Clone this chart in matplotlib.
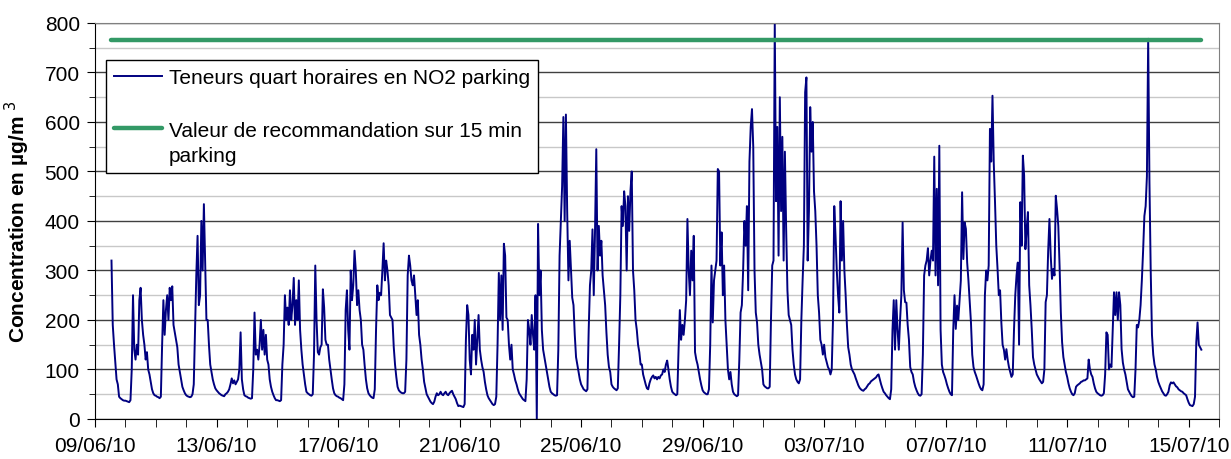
import matplotlib.pyplot as plt
import matplotlib.dates as mdates
from matplotlib.ticker import MultipleLocator, FixedLocator
import numpy as np
import pandas as pd

plt.rcParams['font.family'] = ['Liberation Sans', 'DejaVu Sans']

# teneurs horaires (µg/m3), une ligne = un jour (0h..23h)
no2_09_14 = [
    320, 190, 150, 115, 80, 70, 45, 42, 40, 38, 37,  # 09/06 a partir de 13h
    37, 36, 35, 34, 38, 100, 250, 140, 120, 150, 130, 240, 265, 200, 170, 150, 120, 135, 100, 90, 75, 60, 52, 48,
    47, 45, 44, 42, 45, 150, 240, 170, 220, 250, 200, 265, 240, 268, 190, 175, 160, 145, 110, 95, 80, 65, 58, 52,
    48, 46, 45, 44, 45, 50, 70, 180, 290, 370, 230, 250, 400, 300, 434, 320, 200, 200, 150, 110, 95, 80, 70, 62,
    58, 55, 52, 50, 48, 47, 46, 50, 52, 55, 60, 70, 82, 72, 78, 70, 75, 80, 100, 175, 80, 60, 48, 46,
    45, 43, 42, 41, 42, 100, 215, 130, 140, 120, 150, 200, 140, 180, 130, 170, 120, 110, 80, 65, 55, 48, 42, 38,
]
no2_15_20 = [
    38, 37, 36, 38, 110, 150, 250, 200, 225, 190, 260, 200, 230, 285, 190, 240, 200, 280, 180, 140, 110, 90, 70, 55,
    52, 50, 48, 47, 50, 130, 310, 200, 135, 130, 145, 150, 262, 225, 160, 150, 150, 120, 100, 80, 62, 52, 48, 46,
    45, 43, 42, 40, 38, 70, 220, 260, 180, 140, 300, 240, 270, 340, 300, 230, 260, 220, 200, 150, 140, 108, 80, 62,
    52, 48, 45, 43, 42, 60, 180, 270, 240, 255, 250, 300, 355, 280, 320, 300, 270, 210, 205, 200, 145, 110, 85, 65,
    58, 55, 53, 52, 52, 55, 120, 290, 330, 310, 280, 270, 290, 250, 210, 240, 170, 150, 120, 100, 75, 62, 50, 45,
    40, 35, 32, 30, 35, 45, 52, 48, 50, 55, 50, 48, 52, 55, 50, 48, 52, 55, 57, 50, 45, 40, 32, 26,
]
no2_21_26 = [
    27, 26, 25, 24, 30, 160, 230, 210, 120, 90, 170, 140, 200, 110, 160, 210, 140, 120, 105, 95, 75, 60, 48, 42,
    38, 34, 30, 28, 30, 45, 150, 295, 200, 290, 180, 354, 330, 205, 200, 150, 120, 150, 100, 90, 78, 70, 60, 52,
    48, 44, 40, 38, 36, 80, 200, 180, 150, 210, 170, 140, 250, 0, 394, 250, 300, 180, 140, 125, 110, 95, 80, 65,
    55, 52, 50, 48, 47, 48, 140, 330, 400, 470, 610, 400, 615, 420, 280, 360, 300, 245, 230, 170, 125, 110, 95, 80,
    70, 65, 60, 58, 56, 60, 180, 270, 300, 383, 250, 380, 545, 300, 390, 330, 360, 290, 260, 230, 175, 130, 105, 95,
    70, 65, 62, 60, 58, 62, 150, 250, 430, 390, 460, 430, 300, 450, 380, 460, 500, 300, 260, 200, 180, 150, 135, 110,
]
no2_27_02 = [
    110, 90, 80, 70, 62, 60, 72, 80, 85, 88, 82, 85, 80, 85, 82, 88, 90, 100, 95, 110, 118, 100, 80, 65,
    55, 52, 50, 48, 50, 140, 220, 160, 190, 170, 200, 240, 404, 300, 250, 340, 280, 370, 135, 120, 110, 95, 80, 68,
    58, 54, 52, 50, 50, 60, 150, 310, 195, 280, 300, 320, 505, 500, 310, 377, 250, 310, 200, 150, 100, 80, 95, 70,
    55, 50, 48, 46, 48, 120, 215, 230, 300, 400, 350, 430, 260, 520, 590, 626, 550, 300, 215, 195, 150, 130, 115, 100,
    70, 66, 64, 62, 62, 65, 200, 310, 320, 800, 440, 590, 330, 650, 420, 570, 320, 540, 384, 260, 210, 200, 190, 140,
    110, 90, 80, 75, 72, 80, 200, 280, 350, 660, 690, 320, 420, 630, 540, 600, 460, 420, 350, 250, 215, 160, 150, 130,
]
no2_03_08 = [
    150, 125, 115, 105, 100, 90, 100, 200, 430, 370, 300, 250, 215, 440, 320, 400, 300, 250, 190, 145, 130, 110, 100, 95,
    90, 82, 75, 68, 63, 60, 58, 57, 60, 62, 66, 70, 72, 76, 78, 80, 82, 84, 88, 90, 80, 70, 62, 55,
    52, 48, 45, 42, 40, 60, 180, 240, 140, 240, 180, 140, 200, 250, 397, 260, 236, 235, 190, 160, 105, 95, 90, 75,
    65, 58, 52, 48, 47, 50, 130, 290, 310, 320, 345, 290, 320, 340, 320, 530, 290, 465, 270, 552, 180, 110, 95, 88,
    80, 70, 62, 55, 50, 48, 180, 250, 182, 229, 200, 240, 280, 458, 323, 397, 384, 316, 280, 236, 195, 130, 105, 95,
    88, 80, 72, 65, 60, 58, 70, 250, 300, 280, 310, 586, 520, 653, 518, 438, 350, 303, 250, 260, 195, 150, 140, 120,
]
no2_09_15 = [
    141, 120, 105, 95, 85, 90, 180, 250, 290, 316, 150, 438, 350, 532, 492, 343, 384, 418, 270, 230, 182, 125, 110, 100,
    90, 85, 80, 76, 72, 75, 100, 236, 250, 340, 404, 330, 283, 303, 290, 451, 424, 390, 310, 215, 155, 125, 110, 95,
    85, 72, 62, 55, 50, 48, 52, 65, 68, 70, 72, 75, 76, 78, 78, 80, 82, 120, 100, 90, 85, 72, 62, 55,
    52, 50, 48, 47, 48, 52, 90, 175, 170, 100, 110, 105, 180, 256, 210, 256, 200, 256, 230, 141, 114, 100, 90, 75,
    60, 55, 50, 46, 44, 45, 100, 190, 185, 200, 230, 280, 340, 410, 430, 490, 768, 480, 300, 170, 130, 110, 100, 85,
    75, 68, 62, 56, 52, 48, 47, 50, 55, 68, 74, 72, 74, 70, 66, 64, 60, 58, 56, 55, 52, 50, 48, 40,
    33, 28, 27, 26, 30, 45, 155, 195, 150, 145, 140,  # 15/07 jusqu'a 10h
]

recommandation = 765  # valeur de recommandation sur 15 min

teneurs = np.array(no2_09_14 + no2_15_20 + no2_21_26 + no2_27_02 + no2_03_08 + no2_09_15)
temps = pd.date_range('2010-06-09 13:00', periods=len(teneurs), freq='h')

fig = plt.figure(figsize=(12.31, 4.6), dpi=100)
ax = fig.add_axes([0.0772, 0.087, 0.9131, 0.8609])

ax.plot(temps, teneurs, color='#000080', lw=1.4, label='Teneurs quart horaires en NO2 parking')
ax.plot(temps, np.full(len(temps), recommandation), color='#339966', lw=3.2,
        solid_capstyle='round', label='Valeur de recommandation sur 15 min\nparking')

ax.set_ylim(0, 800)
ax.yaxis.set_major_locator(MultipleLocator(100))
ax.yaxis.set_minor_locator(MultipleLocator(50))
ax.set_xlim(pd.Timestamp('2010-06-09'), pd.Timestamp('2010-07-16'))
ax.xaxis.set_major_locator(FixedLocator(mdates.date2num(pd.date_range('2010-06-09', '2010-07-15', freq='4D'))))
ax.xaxis.set_minor_locator(mdates.DayLocator())
ax.xaxis.set_major_formatter(mdates.DateFormatter('%d/%m/%y'))

ax.set_axisbelow(True)
ax.grid(which='major', axis='y', color='#404040', lw=1)
ax.grid(which='minor', axis='y', color='#c8c8c8', lw=1)

ax.tick_params(axis='both', which='major', labelsize=15, length=6, direction='out')
ax.tick_params(axis='y', which='minor', length=4, direction='out')
ax.tick_params(axis='x', which='minor', length=6, direction='out')
ax.tick_params(axis='x', which='major', pad=6)
ax.tick_params(axis='y', which='major', pad=5)

for s in ['top', 'right']:
    ax.spines[s].set_color('#808080')

ax.set_ylabel('Concentration en µg/m $^{3}$', fontsize=15, fontweight='bold', labelpad=9)

leg = ax.legend(loc='upper left', bbox_to_anchor=(0.0098, 0.9066), borderaxespad=0, fontsize=15,
                frameon=True, fancybox=False, edgecolor='black', framealpha=1,
                handlelength=2.3, handletextpad=0.3, labelspacing=1.6, borderpad=0.4)
leg.get_frame().set_linewidth(1)
leg.get_texts()[1].set_linespacing(1.4)
# la ligne verte est alignee sur la premiere ligne du texte
item = leg._legend_handle_box.get_children()[0].get_children()[1]
item.align = 'top'

fig.savefig('out.png', dpi=100)
